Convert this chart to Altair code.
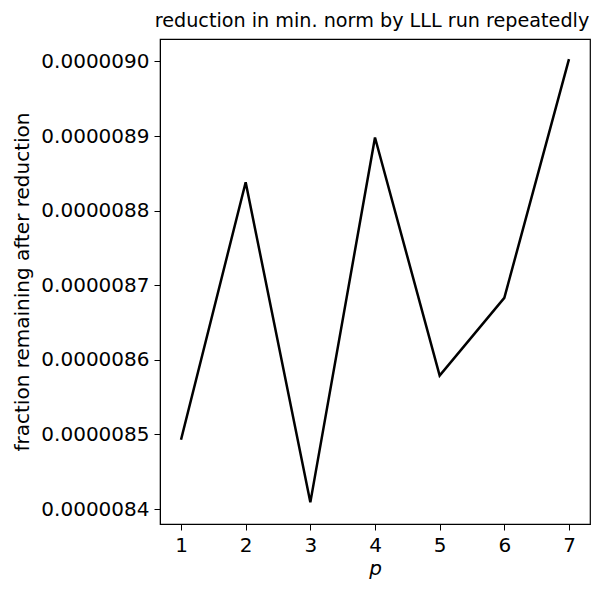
import altair as alt
import pandas as pd

p_values = [1, 2, 3, 4, 5, 6, 7]
fractions = [8.493e-6, 8.838e-6, 8.409e-6, 8.898e-6, 8.579e-6, 8.683e-6, 9.003e-6]
y_ticks = [8.4e-6, 8.5e-6, 8.6e-6, 8.7e-6, 8.8e-6, 8.9e-6, 9.0e-6]

df = pd.DataFrame({"p": p_values, "frac": fractions})

FONT = "DejaVu Sans"
FS = 20

chart = alt.Chart(df).mark_line(color="black", strokeWidth=2.5).encode(
    x=alt.X("p:Q",
            scale=alt.Scale(domain=[0.675, 7.325], nice=False, zero=False),
            axis=alt.Axis(values=p_values, format="d", grid=False,
                          title="p", titleFontStyle="italic", titleFontWeight="normal",
                          titleFont=FONT, titleFontSize=FS, titlePadding=3,
                          labelFont=FONT, labelFontSize=FS, labelPadding=5,
                          tickSize=6, tickColor="black", domainColor="black",
                          labelColor="black", titleColor="black")),
    y=alt.Y("frac:Q",
            scale=alt.Scale(domain=[8.38e-6, 9.03e-6], nice=False, zero=False),
            axis=alt.Axis(values=y_ticks, format=".7f", grid=False,
                          title="fraction remaining after reduction",
                          titleFontWeight="normal",
                          titleFont=FONT, titleFontSize=FS, titlePadding=8,
                          labelFont=FONT, labelFontSize=FS, labelPadding=5,
                          tickSize=6, tickColor="black", domainColor="black",
                          labelColor="black", titleColor="black")),
).properties(
    width=430,
    height=485,
    title=alt.TitleParams("reduction in min. norm by LLL run repeatedly",
                          font=FONT, fontSize=19.2, fontWeight="normal",
                          color="black", anchor="middle", offset=8, dx=-3),
    autosize=alt.AutoSizeParams(type="none"),
    padding={"left": 152, "top": 31, "right": 5, "bottom": 57},
).configure_view(stroke="black", strokeWidth=1.2)

chart.save("out.html", embed_options={"renderer": "svg", "actions": False})
